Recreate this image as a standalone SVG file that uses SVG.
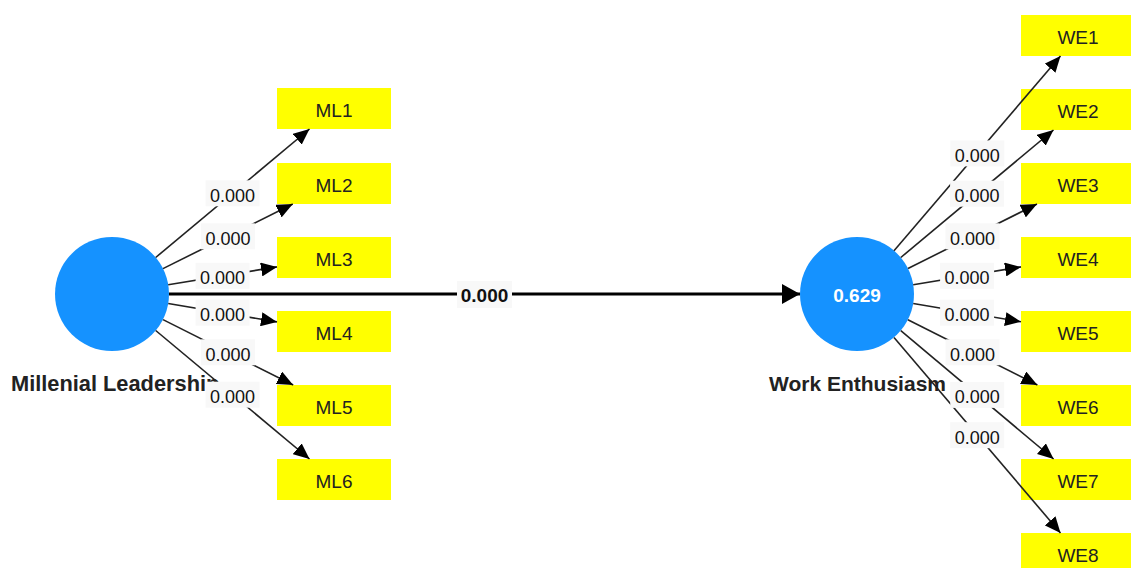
<svg xmlns="http://www.w3.org/2000/svg" width="1131" height="568" viewBox="0 0 1131 568">
<style>
.bg{fill:#ffffff}
.lv{fill:#1592ff}
.mv rect{fill:#ffff00}
.mv text{font-family:"Liberation Sans",Arial,sans-serif;font-size:19px;fill:#222;text-anchor:middle}
.nl{font-family:"Liberation Sans",Arial,sans-serif;font-size:21px;font-weight:bold;fill:#222}
.r2{font-family:"Liberation Sans",Arial,sans-serif;font-size:19px;font-weight:bold;fill:#ffffff;text-anchor:middle}
.ln{stroke:#222;stroke-width:1.6;fill:none;marker-end:url(#ah)}
.main{stroke:#000;stroke-width:3;fill:none;marker-end:url(#ahb)}
.lb rect{fill:#f8f8f8}
.lb text{font-family:"Liberation Sans",Arial,sans-serif;font-size:18px;fill:#111;text-anchor:middle}
.lbm text{font-family:"Liberation Sans",Arial,sans-serif;font-size:19px;font-weight:bold;fill:#111;text-anchor:middle}
</style>
<defs>
<marker id="ah" markerUnits="userSpaceOnUse" markerWidth="16" markerHeight="14" refX="16" refY="7" orient="auto"><path d="M0,0 L16,7 L0,14 z" fill="#000"/></marker>
<marker id="ahb" markerUnits="userSpaceOnUse" markerWidth="18" markerHeight="20" refX="18" refY="10" orient="auto"><path d="M0,0 L18,10 L0,20 z" fill="#000"/></marker>
</defs>
<rect class="bg" x="0" y="0" width="1131" height="568"/>

<g id="ML">
<circle class="lv" cx="112" cy="294" r="57"/>
<text class="nl" x="11" y="391" style="font-size:21.8px">Millenial Leadership</text>
</g>
<g id="WE">
<circle class="lv" cx="857" cy="294" r="57"/>
<text class="r2" x="857" y="302">0.629</text>
<text class="nl" x="769" y="391">Work Enthusiasm</text>
</g>

<g id="ML1" class="mv"><rect x="277" y="88" width="114" height="41"/><text x="334" y="117">ML1</text></g>
<g id="ML2" class="mv"><rect x="277" y="163" width="114" height="41"/><text x="334" y="192">ML2</text></g>
<g id="ML3" class="mv"><rect x="277" y="237" width="114" height="41"/><text x="334" y="266">ML3</text></g>
<g id="ML4" class="mv"><rect x="277" y="311" width="114" height="41"/><text x="334" y="340">ML4</text></g>
<g id="ML5" class="mv"><rect x="277" y="385" width="114" height="41"/><text x="334" y="414">ML5</text></g>
<g id="ML6" class="mv"><rect x="277" y="459" width="114" height="41"/><text x="334" y="488">ML6</text></g>

<g id="WE1" class="mv"><rect x="1021" y="15" width="114" height="41"/><text x="1078" y="43.5">WE1</text></g>
<g id="WE2" class="mv"><rect x="1021" y="89" width="114" height="41"/><text x="1078" y="117.5">WE2</text></g>
<g id="WE3" class="mv"><rect x="1021" y="163" width="114" height="41"/><text x="1078" y="191.5">WE3</text></g>
<g id="WE4" class="mv"><rect x="1021" y="237" width="114" height="41"/><text x="1078" y="265.5">WE4</text></g>
<g id="WE5" class="mv"><rect x="1021" y="311" width="114" height="41"/><text x="1078" y="339.5">WE5</text></g>
<g id="WE6" class="mv"><rect x="1021" y="385" width="114" height="41"/><text x="1078" y="413.5">WE6</text></g>
<g id="WE7" class="mv"><rect x="1021" y="459" width="114" height="41"/><text x="1078" y="487.5">WE7</text></g>
<g id="WE8" class="mv"><rect x="1021" y="533" width="114" height="41"/><text x="1078" y="561.5">WE8</text></g>

<g id="connectors">
<line class="ln" x1="155.7" y1="257.5" x2="309.5" y2="129"/>
<line class="ln" x1="163" y1="268.6" x2="292.8" y2="204"/>
<line class="ln" x1="168.2" y1="284.8" x2="277" y2="266.9"/>
<line class="ln" x1="168.2" y1="303.5" x2="277" y2="321.9"/>
<line class="ln" x1="163" y1="319.6" x2="293.2" y2="385"/>
<line class="ln" x1="155.7" y1="330.5" x2="309.5" y2="459"/>
<line class="ln" x1="894" y1="250.7" x2="1060.5" y2="56"/>
<line class="ln" x1="900.8" y1="257.5" x2="1053.5" y2="130"/>
<line class="ln" x1="908" y1="268.5" x2="1037" y2="204"/>
<line class="ln" x1="913.2" y1="284.7" x2="1021" y2="266.9"/>
<line class="ln" x1="913.2" y1="303.5" x2="1021" y2="321.8"/>
<line class="ln" x1="907.9" y1="319.7" x2="1037.4" y2="385"/>
<line class="ln" x1="900.8" y1="330.7" x2="1053.6" y2="459"/>
<line class="ln" x1="894" y1="337.4" x2="1060.5" y2="533"/>
<line class="main" x1="169" y1="294" x2="800" y2="294"/>

<g class="lb">
<rect x="205.6" y="180.3" width="54" height="26"/><text x="232.6" y="201.8">0.000</text>
<rect x="200.9" y="223.3" width="54" height="26"/><text x="227.9" y="244.8">0.000</text>
<rect x="195.6" y="262.8" width="54" height="26"/><text x="222.6" y="284.3">0.000</text>
<rect x="195.6" y="299.7" width="54" height="26"/><text x="222.6" y="321.2">0.000</text>
<rect x="201.1" y="339.3" width="54" height="26"/><text x="228.1" y="360.8">0.000</text>
<rect x="205.6" y="381.7" width="54" height="26"/><text x="232.6" y="403.2">0.000</text>
<rect x="950.3" y="140.4" width="54" height="26"/><text x="977.3" y="161.9">0.000</text>
<rect x="950.1" y="180.7" width="54" height="26"/><text x="977.1" y="202.2">0.000</text>
<rect x="945.5" y="223.3" width="54" height="26"/><text x="972.5" y="244.8">0.000</text>
<rect x="940.1" y="262.8" width="54" height="26"/><text x="967.1" y="284.3">0.000</text>
<rect x="940.1" y="299.7" width="54" height="26"/><text x="967.1" y="321.2">0.000</text>
<rect x="945.6" y="339.3" width="54" height="26"/><text x="972.6" y="360.8">0.000</text>
<rect x="950.2" y="381.9" width="54" height="26"/><text x="977.2" y="403.4">0.000</text>
<rect x="950.2" y="422.2" width="54" height="26"/><text x="977.2" y="443.7">0.000</text>
</g>
<g class="lb lbm">
<rect x="457" y="281" width="55" height="27"/><text x="484.5" y="301.5">0.000</text>
</g>
</g>
</svg>
